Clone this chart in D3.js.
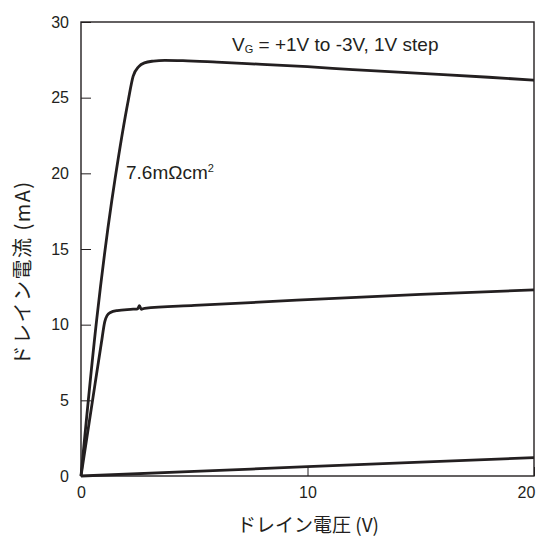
<!DOCTYPE html>
<html>
<head>
<meta charset="utf-8">
<script src="https://cdn.jsdelivr.net/npm/d3@7"></script>
<style>
  body { margin: 0; background: white; }
  text { font-family: "Liberation Sans", Arial, sans-serif; fill: #231f20; }
  .jp { font-family: "Noto Sans CJK JP", sans-serif; }
</style>
</head>
<body>
<script>
// drain voltage (V) / drain current (mA)
const curveHigh = [
  [0, 0], [0.69, 10.3], [1.36, 18.2], [1.5, 19.6], [2.09, 24.85], [2.3, 26.4],
  [2.55, 27.05], [2.8, 27.3], [3.2, 27.42], [3.7, 27.47], [4.5, 27.45],
  [6, 27.35], [8, 27.2], [10, 27.05], [12, 26.85], [15, 26.6], [18, 26.35], [20, 26.15]
]
const curveMid = [
  [0, 0], [0.5, 4.9], [0.9, 8.8], [1.05, 10.2], [1.15, 10.6], [1.3, 10.8],
  [1.6, 10.93], [2.3, 11.02], [2.5, 11.05], [2.58, 11.25], [2.66, 11.02],
  [2.8, 11.08], [5, 11.27], [10, 11.65], [15, 12.0], [20, 12.3]
]
const curveLow = [
  [0, 0], [5, 0.3], [10, 0.62], [15, 0.92], [20, 1.21]
]
const curves = [curveHigh, curveMid, curveLow]

const xTicks = [0, 10, 20]
const yTicks = [0, 5, 10, 15, 20, 25, 30]

const w = 538
const h = 538
const pLeft = 81, pTop = 22, pRight = 534, pBottom = 476

const xScale = d3.scaleLinear()
                 .domain([0, 20])
                 .range([pLeft, pRight])
const yScale = d3.scaleLinear()
                 .domain([0, 30])
                 .range([pBottom, pTop])

const svg = d3.select("body")
              .append("svg")
              .attr("width", w)
              .attr("height", h)

const xAxis = d3.axisBottom(xScale)
                .tickValues(xTicks)
                .tickSize(-9)
                .tickPadding(8)
                .tickFormat(d3.format("d"))
const yAxis = d3.axisLeft(yScale)
                .tickValues(yTicks)
                .tickSize(-10)
                .tickPadding(12)
                .tickFormat(d3.format("d"))

const gx = svg.append("g")
   .attr("transform", "translate(0," + pBottom + ")")
   .call(xAxis)
gx.select(".domain").remove()
gx.selectAll("line").attr("stroke", "#231f20").attr("stroke-width", 1)
gx.selectAll("text").style("font-size", "16px").attr("dy", "0.85em")
gx.selectAll("text").filter((d) => d === 20).attr("x", -8)

const gy = svg.append("g")
   .attr("transform", "translate(" + pLeft + ",0)")
   .call(yAxis)
gy.select(".domain").remove()
gy.selectAll("line").attr("stroke", "#231f20").attr("stroke-width", 1)
gy.selectAll("text").style("font-size", "16px")

// frame
svg.append("rect")
   .attr("x", pLeft)
   .attr("y", pTop)
   .attr("width", pRight - pLeft)
   .attr("height", pBottom - pTop)
   .attr("fill", "none")
   .attr("stroke", "#231f20")
   .attr("stroke-width", 1.4)

const line = d3.line()
               .x((d) => xScale(d[0]))
               .y((d) => yScale(d[1]))
               .curve(d3.curveMonotoneX)

svg.selectAll(".curve")
   .data(curves)
   .enter()
   .append("path")
   .attr("class", "curve")
   .attr("d", line)
   .attr("fill", "none")
   .attr("stroke", "#231f20")
   .attr("stroke-width", 2.8)
   .attr("stroke-linejoin", "round")

// annotations
const note = svg.append("text")
   .attr("x", 232)
   .attr("y", 51)
   .style("font-size", "19px")
note.append("tspan").text("V")
note.append("tspan").text("G").style("font-size", "11px").attr("dy", 2)
note.append("tspan").text(" = +1V to -3V, 1V step").attr("dy", -2)

const res = svg.append("text")
   .attr("x", 126)
   .attr("y", 179)
   .style("font-size", "19px")
res.append("tspan").text("7.6m\u03A9cm")
res.append("tspan").text("2").style("font-size", "11px").attr("dy", -7)

svg.append("text")
   .attr("class", "jp")
   .attr("x", 308)
   .attr("y", 532)
   .attr("text-anchor", "middle")
   .style("font-size", "19px")
   .text("ドレイン電圧 (V)")

svg.append("text")
   .attr("class", "jp")
   .attr("transform", "translate(30," + 273 + ") rotate(-90)")
   .attr("text-anchor", "middle")
   .style("font-size", "20px")
   .style("letter-spacing", "1.5px")
   .text("ドレイン電流 (mA)")
</script>
</body>
</html>
